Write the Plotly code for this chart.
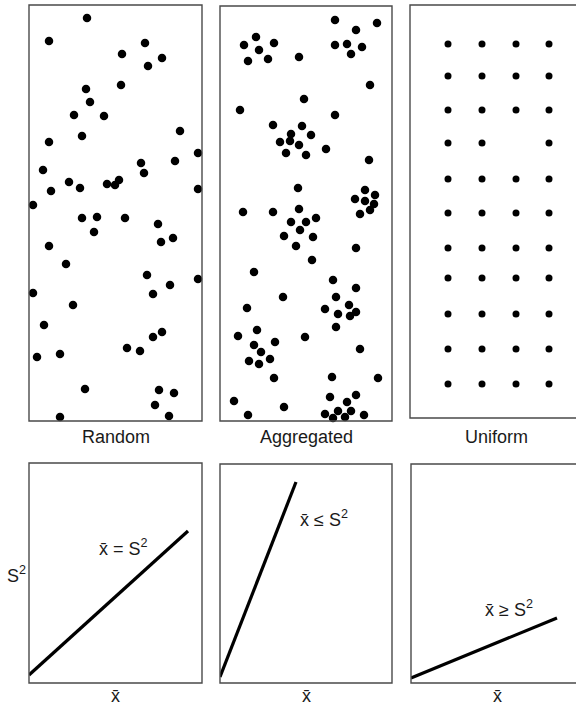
import plotly.graph_objects as go

# ---------------------------------------------------------------------------
# Point patterns (positions in field units, origin at lower-left of each field)
# ---------------------------------------------------------------------------
random_x = [58, 20, 116, 93, 133, 119, 92, 57, 61, 45, 75, 151, 53, 20, 169,
            112, 146, 14, 115, 40, 90, 86, 78, 51, 22, 169, 4, 53, 68, 96,
            65, 129, 144, 132, 20, 37, 118, 169, 141, 4, 124, 44, 15, 133,
            124, 98, 111, 8, 31, 56, 130, 145, 126, 31, 140]
random_y = [403, 380, 378, 367, 363, 355, 336, 332, 319, 306, 305, 290, 285,
            279, 268, 258, 260, 251, 248, 239, 241, 236, 237, 233, 230, 232,
            216, 203, 204, 203, 189, 197, 183, 179, 175, 157, 146, 142, 136,
            128, 127, 116, 96, 89, 84, 73, 70, 64, 67, 32, 31, 28, 16, 4, 5]

aggregated_x = [115, 157, 136, 36, 24, 54, 39, 115, 127, 142, 131, 28, 48, 79,
                150, 84, 20, 115, 53, 82, 71, 91, 60, 70, 79, 106, 66, 86,
                149, 78, 145, 155, 135, 145, 154, 150, 140, 23, 53, 79, 96,
                71, 86, 80, 64, 93, 76, 136, 92, 34, 113, 136, 63, 116, 27,
                105, 129, 118, 136, 130, 116, 37, 18, 85, 55, 34, 41, 140,
                29, 39, 50, 54, 112, 158, 14, 110, 136, 64, 127, 28, 105,
                118, 131, 144, 113, 125]
aggregated_y = [401, 398, 391, 384, 376, 378, 371, 376, 377, 374, 367, 360,
                362, 364, 336, 322, 311, 306, 296, 295, 287, 286, 279, 280,
                276, 272, 268, 266, 261, 233, 231, 226, 222, 220, 217, 211,
                207, 209, 209, 212, 203, 199, 199, 191, 185, 184, 175, 173,
                161, 149, 141, 133, 124, 124, 113, 112, 116, 107, 109, 105,
                94, 91, 85, 84, 79, 76, 69, 72, 60, 57, 62, 43, 44, 43, 20,
                24, 26, 14, 19, 6, 7, 10, 10, 6, 3, 4]

# regular lattice: one entry per row (top to bottom), listing occupied columns
uniform_rows_y = [374, 342, 308, 275, 239, 205, 170, 140, 104, 69, 34]
uniform_rows_x = [
    [38, 72, 106, 139],
    [38, 72, 106, 139],
    [38, 72, 106, 139],
    [38, 72, 139],
    [38, 72, 106, 139],
    [38, 72, 106, 139],
    [38, 72, 106, 139],
    [38, 72, 106, 139],
    [38, 72, 106, 139],
    [38, 72, 106, 139],
    [38, 72, 106, 139],
]
uniform_x = [x for row in uniform_rows_x for x in row]
uniform_y = [y for y, row in zip(uniform_rows_y, uniform_rows_x) for _ in row]

pattern_names = ["Random", "Aggregated", "Uniform"]

# ---------------------------------------------------------------------------
# Variance versus mean relations (start and end of each line)
# ---------------------------------------------------------------------------
relation_mean = [[0, 159], [0, 76], [0, 146]]
relation_var = [[8, 152], [6, 201], [5, 65]]
relation_labels = ["x\u0304 = S<sup>2</sup>", "x\u0304 \u2264 S<sup>2</sup>",
                   "x\u0304 \u2265 S<sup>2</sup>"]

# ---------------------------------------------------------------------------
# Layout geometry (pixels: left, top, right, bottom)
# ---------------------------------------------------------------------------
W, H = 576, 706
top_boxes = [(29, 5, 202, 421), (220, 6, 392, 421), (410, 5, 583, 418)]
bottom_boxes = [(29, 463, 202, 683), (220, 464, 392, 683), (411, 464, 583, 683)]
label_pos = [(94, 136), (104, 165), (98, 75)]

FONT = "Liberation Sans, Arial, Helvetica, sans-serif"
INK = "black"
TEXT = "#1a1a1a"
FRAME = "#4a4a4a"


def px(x):
    return x / W


def py(y):
    return 1 - y / H


fig = go.Figure()
layout = dict(
    width=W, height=H, margin=dict(l=0, r=0, t=0, b=0),
    paper_bgcolor="white", plot_bgcolor="white", showlegend=False,
    shapes=[], annotations=[],
)

axis_style = dict(showgrid=False, zeroline=False, showticklabels=False,
                  showline=False, ticks="", fixedrange=True)

patterns = [(random_x, random_y, 8.5), (aggregated_x, aggregated_y, 8.5),
            (uniform_x, uniform_y, 7)]

for i, (box, (xs, ys, size)) in enumerate(zip(top_boxes, patterns)):
    n = i + 1
    l, t, r, b = box
    right = min(r, W)
    layout[f"xaxis{n}"] = dict(axis_style, domain=[px(l), px(right)],
                               range=[0, right - l], anchor=f"y{n}")
    layout[f"yaxis{n}"] = dict(axis_style, domain=[py(b), py(t)],
                               range=[0, b - t], anchor=f"x{n}")
    fig.add_trace(go.Scatter(x=xs, y=ys, mode="markers", xaxis=f"x{n}",
                             yaxis=f"y{n}", cliponaxis=False,
                             marker=dict(size=size, color=INK,
                                         line=dict(width=0))))
    layout["shapes"].append(dict(type="rect", xref="paper", yref="paper",
                                 x0=px(l), x1=px(r), y0=py(b), y1=py(t),
                                 line=dict(color=FRAME, width=1.4)))
    layout["annotations"].append(dict(
        text=pattern_names[i], xref="paper", yref="paper",
        x=px((l + r) / 2), y=py(437), xanchor="center", yanchor="middle",
        showarrow=False, font=dict(family=FONT, size=18, color=TEXT)))

for i, box in enumerate(bottom_boxes):
    n = i + 4
    l, t, r, b = box
    right = min(r, W)
    layout[f"xaxis{n}"] = dict(axis_style, domain=[px(l), px(right)],
                               range=[0, right - l], anchor=f"y{n}")
    layout[f"yaxis{n}"] = dict(axis_style, domain=[py(b), py(t)],
                               range=[0, b - t], anchor=f"x{n}")
    fig.add_trace(go.Scatter(x=relation_mean[i], y=relation_var[i],
                             mode="lines", xaxis=f"x{n}", yaxis=f"y{n}",
                             cliponaxis=False,
                             line=dict(color=INK, width=3.2)))
    layout["shapes"].append(dict(type="rect", xref="paper", yref="paper",
                                 x0=px(l), x1=px(r), y0=py(b), y1=py(t),
                                 line=dict(color=FRAME, width=1.4)))
    lx, ly = label_pos[i]
    layout["annotations"].append(dict(
        text=relation_labels[i], xref=f"x{n}", yref=f"y{n}", x=lx, y=ly,
        xanchor="center", yanchor="middle", showarrow=False,
        font=dict(family=FONT, size=18, color=TEXT)))
    layout["annotations"].append(dict(
        text="x\u0304", xref="paper", yref="paper", x=px((l + r) / 2),
        y=py(696), xanchor="center", yanchor="middle", showarrow=False,
        font=dict(family=FONT, size=18, color=TEXT)))

layout["annotations"].append(dict(
    text="S<sup>2</sup>", xref="paper", yref="paper", x=px(16), y=py(574),
    xanchor="center", yanchor="middle", showarrow=False,
    font=dict(family=FONT, size=18, color=TEXT)))

fig.update_layout(**layout)
fig.write_html("out.html")
